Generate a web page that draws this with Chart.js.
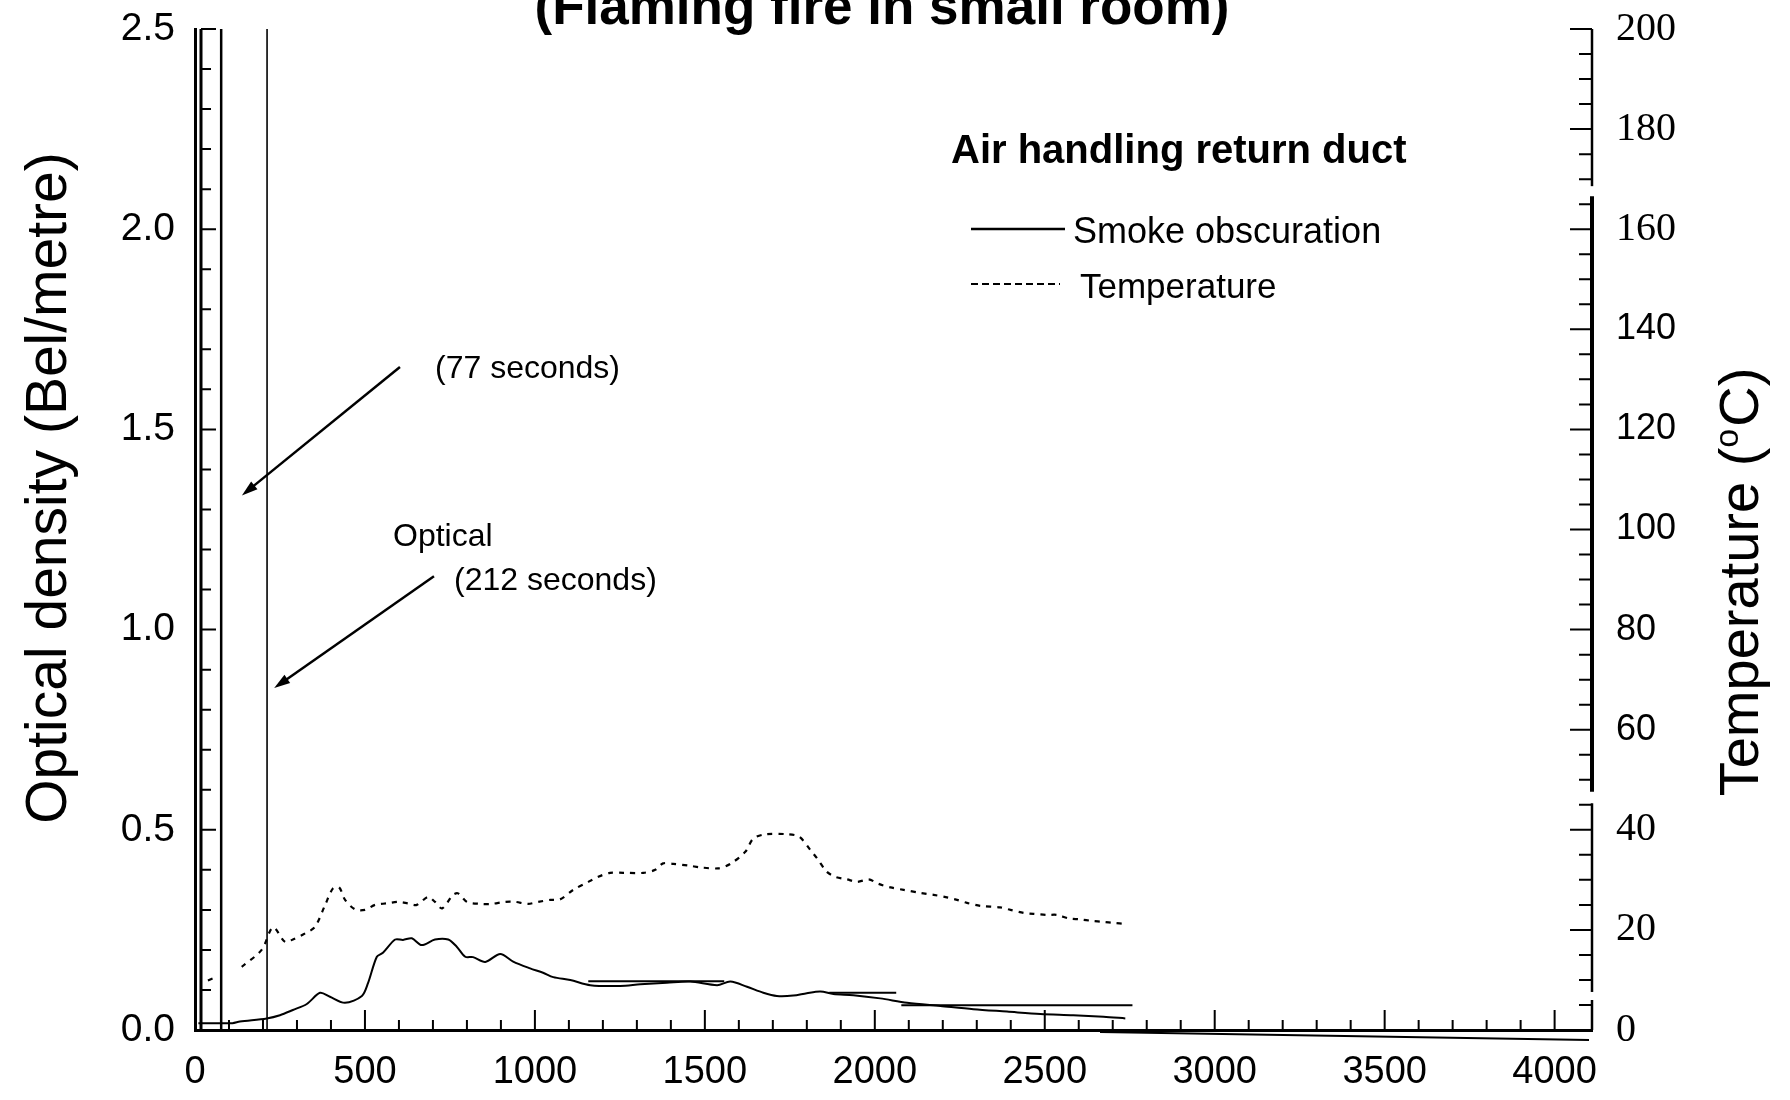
<!DOCTYPE html>
<html>
<head>
<meta charset="utf-8">
<title>Air handling return duct</title>
<script src="https://cdn.jsdelivr.net/npm/chart.js@4.4.1/dist/chart.umd.min.js"></script>
<style>
  html, body { margin: 0; padding: 0; background: #fff; }
  #wrap { width: 1790px; height: 1100px; }
</style>
</head>
<body>
<div id="wrap"><canvas id="ductChart" width="1790" height="1100"></canvas></div>
<script>
// Smoke obscuration in the return duct: time (s) vs optical density (Bel/metre)
const smokeTime = [10, 110, 132, 211, 250, 288, 329, 368, 397, 441,
  491, 509, 535, 553, 589, 612, 638, 667, 706, 745,
  770, 795, 818, 854, 898, 936, 986, 1024, 1054, 1104,
  1163, 1251, 1310, 1388, 1457, 1536, 1575, 1624, 1672, 1712,
  1760, 1800, 1840, 1878, 1937, 2016, 2095, 2193, 2290, 2389,
  2487, 2584, 2673, 2737];
const smokeOD = [0.017, 0.017, 0.021, 0.029, 0.037, 0.050, 0.065, 0.093, 0.083, 0.068,
  0.085, 0.117, 0.183, 0.193, 0.226, 0.225, 0.229, 0.212, 0.226, 0.226,
  0.208, 0.183, 0.182, 0.170, 0.190, 0.171, 0.154, 0.143, 0.132, 0.125,
  0.112, 0.110, 0.114, 0.118, 0.121, 0.112, 0.121, 0.108, 0.093, 0.085,
  0.086, 0.092, 0.096, 0.090, 0.087, 0.079, 0.068, 0.060, 0.052, 0.046,
  0.040, 0.037, 0.033, 0.029];

// Duct temperature (degC); null leaves the gap in the early record
const tempTime = [38, 52, 60, 137.5, 196, 229.6, 265, 288, 324, 353, 383, 406, 424,
  441.5, 471, 500, 530, 564, 597.5, 627, 652.5, 686, 706,
  727, 759, 774, 800, 839, 873, 912, 942, 980, 1010,
  1045, 1074, 1113, 1157, 1186, 1221, 1260, 1319, 1354, 1377,
  1407, 1457, 1486, 1539, 1575, 1619, 1642, 1677, 1745, 1778,
  1810, 1830, 1859, 1884, 1918, 1948, 1982, 2011, 2046, 2085,
  2134, 2173, 2212, 2242, 2271, 2311, 2369, 2399, 2438, 2467,
  2507, 2536, 2570, 2605, 2639, 2673, 2703, 2737];
const tempC = [9.9, 10.3, null, 12.6, 16.0, 20.5, 17.6, 18.1, 19.3, 20.6, 25.0, 28.3, 28.5,
  26.0, 24.1, 24.0, 25.0, 25.3, 25.6, 25.3, 25.0, 26.6, 25.6,
  24.3, 27.0, 27.3, 25.6, 25.2, 25.2, 25.6, 25.6, 25.2, 25.6,
  26.0, 26.1, 28.0, 29.6, 30.6, 31.4, 31.4, 31.4, 32.0, 33.3,
  33.2, 32.8, 32.5, 32.3, 33.2, 35.6, 38.2, 39.1, 39.1, 38.6,
  36.0, 34.3, 31.6, 30.6, 30.1, 29.6, 30.1, 29.2, 28.5, 28.0,
  27.4, 27.0, 26.5, 26.0, 25.4, 24.8, 24.5, 24.0, 23.4, 23.2,
  23.0, 23.0, 22.3, 22.1, 21.8, 21.6, 21.4, 21.2];

// Detector alarm times (s)
const alarmTimes = [77, 212];

// Straight rules lying across the smoke trace
const ruleStart = [1157, 1866, 2078];
const ruleEnd = [1557, 2063, 2758];
const ruleOD = [0.122, 0.093, 0.062];

// Tick values
const timeTicks = [0, 500, 1000, 1500, 2000, 2500, 3000, 3500, 4000];
const odTicks = [0, 0.5, 1.0, 1.5, 2.0, 2.5];
const tempTicks = [0, 20, 40, 60, 80, 100, 120, 140, 160, 180, 200];
const serifTempTicks = [0, 20, 40, 160, 180, 200];

const SANS = '"Liberation Sans", Arial, Helvetica, sans-serif';
const SERIF = '"Liberation Serif", "Times New Roman", serif';

const toPoints = (xs, ys) => xs.map((x, i) => ({ x: x, y: ys[i] }));

function rulePoints() {
  const pts = [];
  ruleStart.forEach((s, i) => {
    pts.push({ x: s, y: ruleOD[i] }, { x: ruleEnd[i], y: ruleOD[i] }, { x: ruleEnd[i] + 1, y: null });
  });
  return pts;
}

// keep the plot box fixed: no room reserved for label overhang
function noOverhang(s) {
  s.paddingTop = 0;
  s.paddingBottom = 0;
  s.paddingLeft = 0;
  s.paddingRight = 0;
}

function arrow(ctx, x1, y1, x2, y2) {
  const ang = Math.atan2(y2 - y1, x2 - x1);
  const head = 16, half = 5;
  ctx.beginPath();
  ctx.moveTo(x1, y1);
  ctx.lineTo(x2 - Math.cos(ang) * head * 0.8, y2 - Math.sin(ang) * head * 0.8);
  ctx.stroke();
  ctx.beginPath();
  ctx.moveTo(x2, y2);
  ctx.lineTo(x2 - Math.cos(ang) * head - Math.sin(ang) * half, y2 - Math.sin(ang) * head + Math.cos(ang) * half);
  ctx.lineTo(x2 - Math.cos(ang) * head + Math.sin(ang) * half, y2 - Math.sin(ang) * head - Math.cos(ang) * half);
  ctx.closePath();
  ctx.fill();
}

// Inward tick marks, broken right axis, titles, key and callouts
const figureDecor = {
  id: 'figureDecor',
  afterDraw(chart) {
    const { ctx, chartArea: a, scales } = chart;
    const x = scales.x, y = scales.y, t = scales.temp;
    ctx.save();
    ctx.strokeStyle = '#000';
    ctx.fillStyle = '#000';

    // second rule of the left axis
    ctx.lineWidth = 3;
    ctx.beginPath();
    ctx.moveTo(a.left + 6, a.top);
    ctx.lineTo(a.left + 6, a.bottom);
    ctx.stroke();

    // tick marks pointing into the plot
    ctx.lineWidth = 2;
    ctx.beginPath();
    for (let s = 0; s <= 4000; s += 100) {
      const px = x.getPixelForValue(s);
      const len = s % 500 === 0 ? 20 : 10;
      ctx.moveTo(px, a.bottom);
      ctx.lineTo(px, a.bottom - len);
    }
    for (let i = 0; i <= 25; i++) {
      const py = y.getPixelForValue(i / 10);
      const len = i % 5 === 0 ? 15 : 10;
      ctx.moveTo(a.left + 6, py);
      ctx.lineTo(a.left + 6 + len, py);
    }
    for (let v = 0; v <= 200; v += 5) {
      const py = t.getPixelForValue(v);
      const len = v % 20 === 0 ? 22 : 13;
      ctx.moveTo(a.right, py);
      ctx.lineTo(a.right - len, py);
    }
    ctx.stroke();

    // right axis, drawn in pieces
    [[0, 6.0, 2.5], [7.6, 45.3, 2.5], [47.6, 166.6, 4], [168.6, 200, 2.5]].forEach(p => {
      ctx.lineWidth = p[2];
      ctx.beginPath();
      ctx.moveTo(a.right, t.getPixelForValue(p[0]));
      ctx.lineTo(a.right, t.getPixelForValue(p[1]));
      ctx.stroke();
    });
    ctx.lineWidth = 2;
    ctx.beginPath();
    ctx.moveTo(1100, a.bottom + 2);
    ctx.lineTo(a.right - 3, a.bottom + 10);
    ctx.stroke();

    // figure title
    ctx.font = 'bold 53px ' + SANS;
    ctx.textAlign = 'center';
    ctx.textBaseline = 'alphabetic';
    ctx.fillText('(Flaming fire in small room)', 882, 24);

    // left axis title
    ctx.save();
    ctx.translate(66, 488);
    ctx.rotate(-Math.PI / 2);
    ctx.font = '57px ' + SANS;
    ctx.fillText('Optical density (Bel/metre)', 0, 0);
    ctx.restore();

    // right axis title with raised "o"
    ctx.save();
    ctx.translate(1758, 582);
    ctx.rotate(-Math.PI / 2);
    ctx.textAlign = 'left';
    const big = '56px ' + SANS, small = '34px ' + SANS;
    ctx.font = big;
    const w1 = ctx.measureText('Temperature (').width;
    const w3 = ctx.measureText('C)').width;
    ctx.font = small;
    const w2 = ctx.measureText('o').width + 2;
    let cx = -(w1 + w2 + w3) / 2;
    ctx.font = big;
    ctx.fillText('Temperature (', cx, 0);
    cx += w1;
    ctx.font = small;
    ctx.fillText('o', cx, -20);
    cx += w2;
    ctx.font = big;
    ctx.fillText('C)', cx, 0);
    ctx.restore();

    // key
    ctx.textAlign = 'left';
    ctx.font = 'bold 40px ' + SANS;
    ctx.fillText('Air handling return duct', 951, 163);
    ctx.lineWidth = 2.5;
    ctx.beginPath();
    ctx.moveTo(971, 229);
    ctx.lineTo(1065, 229);
    ctx.stroke();
    ctx.font = '36px ' + SANS;
    ctx.fillText('Smoke obscuration', 1073, 243);
    ctx.lineWidth = 2;
    ctx.setLineDash([7, 4]);
    ctx.beginPath();
    ctx.moveTo(971, 284);
    ctx.lineTo(1060, 284);
    ctx.stroke();
    ctx.setLineDash([]);
    ctx.font = '35px ' + SANS;
    ctx.fillText('Temperature', 1080, 298);

    // alarm callouts
    ctx.font = '32px ' + SANS;
    ctx.fillText('(77 seconds)', 435, 378);
    ctx.fillText('Optical', 393, 546);
    ctx.fillText('(212 seconds)', 454, 590);
    ctx.lineWidth = 2.5;
    arrow(ctx, x.getPixelForValue(603), y.getPixelForValue(1.656), x.getPixelForValue(138), y.getPixelForValue(1.335));
    arrow(ctx, x.getPixelForValue(703), y.getPixelForValue(1.133), x.getPixelForValue(233), y.getPixelForValue(0.854));

    ctx.restore();
  }
};

const datasets = [
  {
    label: 'Smoke obscuration',
    data: toPoints(smokeTime, smokeOD),
    yAxisID: 'y',
    borderColor: '#000',
    borderWidth: 2,
    tension: 0.3
  },
  {
    label: 'Temperature',
    data: toPoints(tempTime, tempC),
    yAxisID: 'temp',
    borderColor: '#000',
    borderWidth: 2.2,
    borderDash: [5, 6],
    spanGaps: false,
    tension: 0.3
  },
  {
    label: 'rules',
    data: rulePoints(),
    yAxisID: 'y',
    borderColor: '#000',
    borderWidth: 2,
    spanGaps: false
  }
];
alarmTimes.forEach((s, i) => {
  datasets.push({
    label: 'alarm ' + s + ' s',
    data: [{ x: s, y: 0 }, { x: s, y: 2.5 }],
    yAxisID: 'y',
    borderColor: '#000',
    borderWidth: i === 0 ? 2.5 : 1.6
  });
});

new Chart(document.getElementById('ductChart'), {
  type: 'line',
  data: { datasets: datasets },
  options: {
    responsive: false,
    animation: false,
    layout: { padding: { top: 29, left: 0, right: 0, bottom: 0 } },
    elements: { point: { radius: 0 } },
    plugins: {
      legend: { display: false },
      tooltip: { enabled: false },
      title: { display: false }
    },
    scales: {
      x: {
        type: 'linear',
        min: 0,
        max: 4110,
        afterFit: s => { s.height = 70; noOverhang(s); },
        afterBuildTicks: s => { s.ticks = timeTicks.map(v => ({ value: v })); },
        ticks: {
          color: '#000',
          font: { family: SANS, size: 38 },
          padding: 12,
          maxRotation: 0,
          autoSkip: false,
          callback: v => String(v)
        },
        grid: { display: false },
        border: { color: '#000', width: 3 }
      },
      y: {
        position: 'left',
        min: 0,
        max: 2.5,
        afterFit: s => { s.width = 195; noOverhang(s); },
        afterBuildTicks: s => { s.ticks = odTicks.map(v => ({ value: v })); },
        ticks: {
          color: '#000',
          font: { family: SANS, size: 39 },
          padding: 12,
          callback: v => Number(v).toFixed(1)
        },
        grid: { display: false },
        border: { color: '#000', width: 3 }
      },
      temp: {
        position: 'right',
        min: 0,
        max: 200,
        afterFit: s => { s.width = 198; noOverhang(s); },
        afterBuildTicks: s => { s.ticks = tempTicks.map(v => ({ value: v })); },
        ticks: {
          color: '#000',
          padding: 16,
          font: c => (c.tick && serifTempTicks.includes(c.tick.value))
            ? { family: SERIF, size: 40 }
            : { family: SANS, size: 36 }
        },
        grid: { display: false },
        border: { display: false }
      }
    }
  },
  plugins: [figureDecor]
});
</script>
</body>
</html>
